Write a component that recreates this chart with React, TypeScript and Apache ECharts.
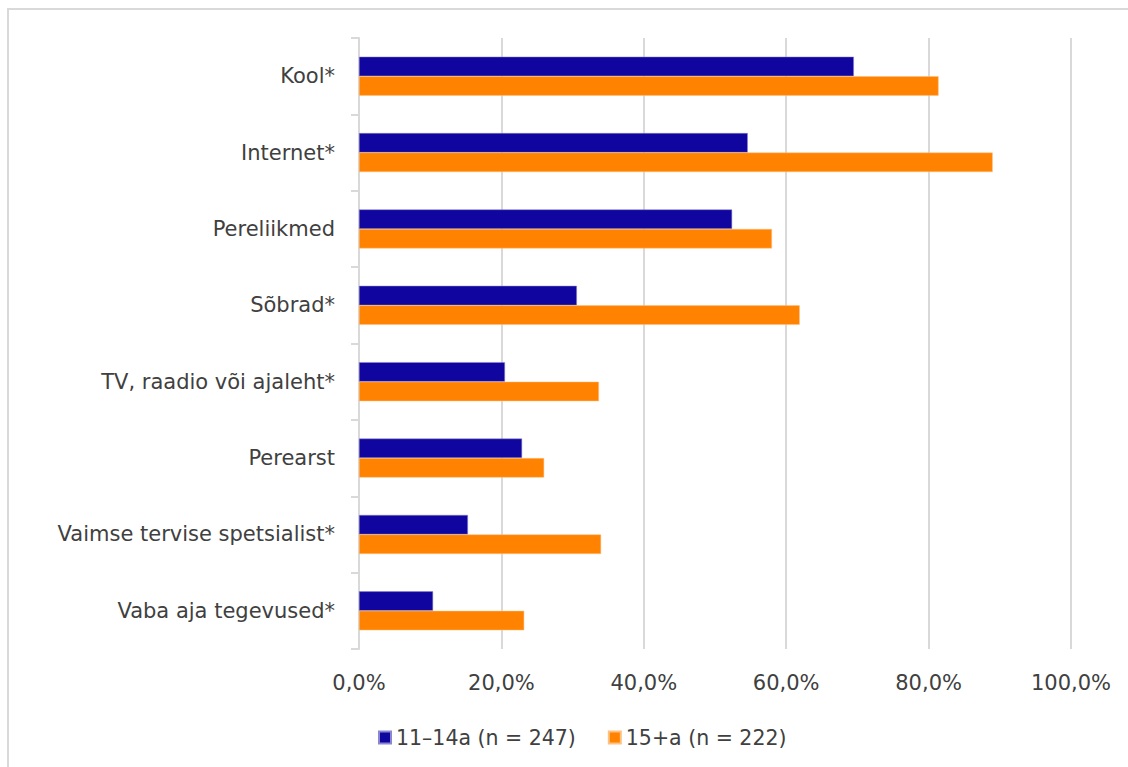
import React, { useEffect, useRef } from "react";
import * as echarts from "echarts";

const categories = [
  "Kool*",
  "Internet*",
  "Pereliikmed",
  "Sõbrad*",
  "TV, raadio või ajaleht*",
  "Perearst",
  "Vaimse tervise spetsialist*",
  "Vaba aja tegevused*",
];
const seriesNames = ["11–14a (n = 247)", "15+a (n = 222)"];
const young = [69.5, 54.6, 52.4, 30.6, 20.5, 22.9, 15.3, 10.4];
const older = [81.4, 89.0, 58.0, 61.9, 33.7, 26.0, 34.0, 23.2];
const xTicks = [0, 20, 40, 60, 80, 100];

const FONT = "DejaVu Sans";
const TEXT = "#404040";
const GRID = "#d9d9d9";

export default function App() {
  const ref = useRef<HTMLDivElement>(null);
  useEffect(() => {
    if (!ref.current) return;
    const chart = echarts.init(ref.current, undefined, { renderer: "svg" });
    chart.setOption({
      animation: false,
      backgroundColor: "#ffffff",
      textStyle: { fontFamily: FONT },
      graphic: [
        {
          type: "rect",
          shape: { x: 8, y: 9, width: 1130, height: 770 },
          style: { fill: "none", stroke: GRID, lineWidth: 2 },
          silent: true,
        },
      ],
      grid: { left: 359, right: 57, top: 38, bottom: 118, containLabel: false },
      legend: {
        left: 373,
        top: 722,
        itemWidth: 12,
        itemHeight: 12,
        itemGap: 32,
        icon: "rect",
        textStyle: { fontFamily: FONT, fontSize: 20.5, color: TEXT },
        data: seriesNames,
      },
      xAxis: {
        type: "value",
        min: 0,
        max: 100,
        interval: 20,
        axisLine: { show: false },
        axisTick: { show: false },
        splitLine: { lineStyle: { color: GRID, width: 2 } },
        axisLabel: {
          margin: 23,
          fontFamily: FONT,
          fontSize: 21,
          color: TEXT,
          formatter: (v: number) => (xTicks.includes(v) ? v.toFixed(1).replace(".", ",") + "%" : ""),
        },
      },
      yAxis: {
        type: "category",
        inverse: true,
        data: categories,
        axisLine: { show: true, lineStyle: { color: GRID, width: 2 } },
        axisTick: { show: true, length: 8, lineStyle: { color: GRID, width: 2 } },
        axisLabel: { margin: 24, fontFamily: FONT, fontSize: 21, color: TEXT },
      },
      series: [
        {
          name: seriesNames[0],
          type: "bar",
          data: young,
          barWidth: 19.5,
          barGap: "0%",
          itemStyle: { color: "#10069F", borderColor: "#8a86cf", borderWidth: 0.5 },
        },
        {
          name: seriesNames[1],
          type: "bar",
          data: older,
          barWidth: 19.5,
          barGap: "0%",
          itemStyle: { color: "#FF8200", borderColor: "#ffc080", borderWidth: 0.5 },
        },
      ],
    });
    return () => chart.dispose();
  }, []);
  return (
    <div
      ref={ref}
      style={{ position: "fixed", left: 0, top: 0, width: 1128, height: 767 }}
    />
  );
}
